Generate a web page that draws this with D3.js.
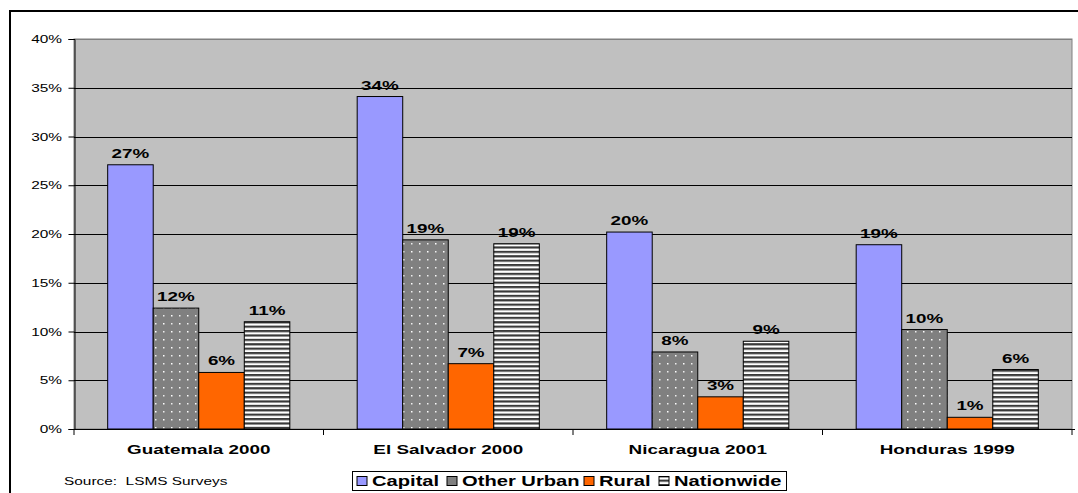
<!DOCTYPE html>
<html><head><meta charset="utf-8">
<script src="https://cdn.jsdelivr.net/npm/d3@7"></script>
<style>body{margin:0;background:#fff}svg{display:block}text{font-family:Arial,"Liberation Sans",sans-serif;white-space:pre}</style>
</head><body><svg id="c" width="1078" height="493"></svg>
<script>
const categories = ["Guatemala 2000","El Salvador 2000","Nicaragua 2001","Honduras 1999"];
const seriesNames = ["Capital","Other Urban","Rural","Nationwide"];
const capital    = [27.1, 34.1, 20.2, 18.9];
const otherUrban = [12.4, 19.4, 7.9, 10.2];
const rural      = [5.8, 6.7, 3.3, 1.2];
const nationwide = [11.0, 19.0, 9.0, 6.1];
const yTicks = [0,5,10,15,20,25,30,35,40];
const source = "Source:  LSMS Surveys";

const seriesValues = [capital, otherUrban, rural, nationwide];
const svg = d3.select("#c");
const defs = svg.append("defs");
const SX = 1.45; // horizontal stretch of the original's text

function label(parent, x, y, str, size, weight, anchor, sx){
  return parent.append("text").attr("transform",`translate(${x},${y}) scale(${sx||SX},1)`)
    .attr("xml:space","preserve")
    .attr("text-anchor",anchor||"start").attr("font-size",size).attr("font-weight",weight||"normal")
    .attr("fill","#000").text(str);
}

// dotted pattern
const pd = defs.append("pattern").attr("id","dots").attr("patternUnits","userSpaceOnUse").attr("width",16).attr("height",16);
pd.append("rect").attr("width",16).attr("height",16).attr("fill","#808080");
[[3,3],[11,11]].forEach(([x,y])=>pd.append("rect").attr("x",x).attr("y",y).attr("width",1.5).attr("height",1.5).attr("fill","#fff"));
[[11,3],[3,11]].forEach(([x,y])=>pd.append("rect").attr("x",x).attr("y",y).attr("width",1.5).attr("height",1.5).attr("fill","#eee"));
const ps = defs.append("pattern").attr("id","stripes").attr("patternUnits","userSpaceOnUse").attr("width",8).attr("height",4.4);
ps.append("rect").attr("width",8).attr("height",4.4).attr("fill","#fff");
ps.append("rect").attr("y",0).attr("width",8).attr("height",2.2).attr("fill","#3a3a3a");
const fills = ["#9999FF","url(#dots)","#FF6600","url(#stripes)"];
const swatchFills = ["#9999FF","#808080","#FF6600","url(#stripes)"];

// outer border
svg.append("rect").attr("x",10).attr("y",11).attr("width",1080).attr("height",500).attr("fill","none").attr("stroke","#000").attr("stroke-width",2);

const L=74, R=1072, T=39, B=429;
const x0 = d3.scaleBand().domain(categories).range([L,R]).paddingInner(0.27).paddingOuter(0.135);
const x1 = d3.scaleBand().domain(seriesNames).range([0,x0.bandwidth()]);
const y = d3.scaleLinear().domain([0,40]).range([B,T]);

svg.append("rect").attr("x",L).attr("y",T).attr("width",R-L).attr("height",B-T).attr("fill","#C0C0C0").attr("stroke","#808080");
// gridlines
svg.append("g").selectAll("line").data(yTicks.filter(d=>d>0)).join("line")
  .attr("x1",L).attr("x2",R).attr("y1",d=>Math.round(y(d))+0.5).attr("y2",d=>Math.round(y(d))+0.5)
  .attr("stroke",d=>d===40?"#808080":"#000").attr("stroke-width",1);

// bars
const g = svg.append("g");
categories.forEach((c,ci)=>{
  seriesNames.forEach((s,si)=>{
    const v = seriesValues[si][ci];
    const bx = x0(c)+x1(s);
    g.append("rect").attr("x",bx).attr("y",y(v)).attr("width",x1.bandwidth()).attr("height",B-y(v))
      .attr("fill",fills[si]).attr("stroke","#000").attr("stroke-width",1);
    label(g, bx+x1.bandwidth()/2, y(v)-7, Math.round(v)+"%", 13, "bold", "middle");
  });
});

// axes
const ya = svg.append("g").attr("transform",`translate(${L+0.5},0)`)
  .call(d3.axisLeft(y).tickValues(yTicks).tickSize(6).tickFormat(""));
ya.select(".domain").attr("stroke","#000");
ya.selectAll(".tick line").attr("stroke","#000");
yTicks.forEach(t=>label(svg, 62, y(t)+4, t+"%", 11, "normal", "end", 1.4));

const xa = svg.append("g").attr("transform",`translate(0,${B+0.5})`)
  .call(d3.axisBottom(x0).tickSize(0).tickFormat(""));
xa.select(".domain").attr("stroke","#000").attr("d",`M${L},0H${R+3}`);
categories.forEach(c=>label(svg, x0(c)+x0.bandwidth()/2, 454, c, 13, "bold", "middle"));
// category tick marks
svg.append("g").selectAll("line").data(d3.range(categories.length+1)).join("line")
  .attr("x1",i=>L+i*(R-L)/categories.length).attr("x2",i=>L+i*(R-L)/categories.length)
  .attr("y1",B).attr("y2",B+6).attr("stroke","#000");

// source
label(svg, 64, 485, source, 11, "normal", "start", 1.4);

// legend
const lg = svg.append("g");
lg.append("rect").attr("x",352.5).attr("y",471.5).attr("width",434).attr("height",19).attr("fill","#fff").attr("stroke","#000");
const lx = [357, 447, 584, 659];
seriesNames.forEach((s,i)=>{
  lg.append("rect").attr("x",lx[i]).attr("y",476.5).attr("width",10).attr("height",9).attr("fill",swatchFills[i]).attr("stroke","#000");
  label(lg, lx[i]+15, 486, s, 14, "bold", "start", 1.44);
});
</script></body></html>
